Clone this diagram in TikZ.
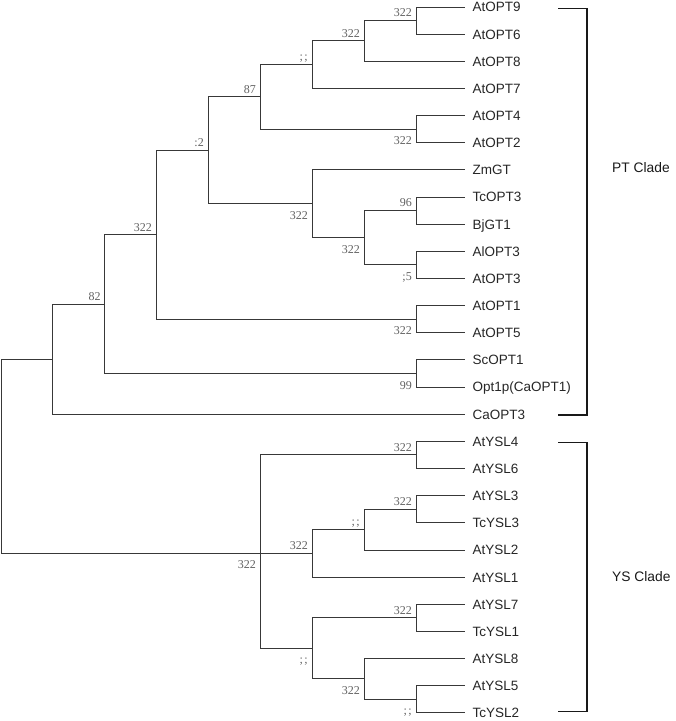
\documentclass[tikz,border=0pt]{standalone}
\usepackage{fontspec}
\setmainfont{Liberation Sans}
\newfontfamily\bsfont{Liberation Serif}
\begin{document}
\begin{tikzpicture}[x=1pt,y=-1pt,
  br/.style={draw=black!78,line width=1pt},
  leaf/.style={anchor=west,inner sep=0pt,text height=9.7pt,text depth=0pt,text=black!85,font=\fontsize{13.5}{14}\selectfont},
  clade/.style={anchor=west,inner sep=0pt,text height=9.7pt,text depth=0pt,text=black!90,font=\fontsize{13.8}{14}\selectfont},
  bs/.style={inner sep=0pt,text height=7.8pt,text depth=0pt,text=black!62,font=\bsfont\fontsize{12}{12}\selectfont},
  bsa/.style={bs,anchor=south east,xshift=-4pt,yshift=3.5pt},
  bsb/.style={bs,anchor=north east,xshift=-4pt,yshift=-7.5pt},
  bracket/.style={draw=black!90,line width=1.5pt}]
\useasboundingbox (0,0) rectangle (676,721);
% leaves
\foreach \i/\t in {0/AtOPT9,1/AtOPT6,2/AtOPT8,3/AtOPT7,4/AtOPT4,5/AtOPT2,6/ZmGT,7/TcOPT3,8/BjGT1,9/AlOPT3,10/AtOPT3,11/AtOPT1,12/AtOPT5,13/ScOPT1,14/Opt1p(CaOPT1),15/CaOPT3,16/AtYSL4,17/AtYSL6,18/AtYSL3,19/TcYSL3,20/AtYSL2,21/AtYSL1,22/AtYSL7,23/TcYSL1,24/AtYSL8,25/AtYSL5,26/TcYSL2}{
  \node[leaf] (l\i) at (472.5,{7+27.15*\i}) {\t};
  \coordinate (e\i) at ([xshift=-7.5pt]l\i.west);
}
% internal nodes
\coordinate (K) at (416,20.575);
\coordinate (J) at (364,40.94);
\coordinate (H) at (312,64.69);
\coordinate (I) at (416,129.175);
\coordinate (F) at (260,96.93);
\coordinate (M) at (416,210.625);
\coordinate (N) at (416,264.925);
\coordinate (L) at (364,237.775);
\coordinate (G) at (312,203.84);
\coordinate (D) at (208,150.385);
\coordinate (E) at (416,319.225);
\coordinate (B) at (156,234.8);
\coordinate (C) at (416,373.525);
\coordinate (A) at (104.7,304.16);
\coordinate (Z) at (52.7,359.2);
\coordinate (Q) at (416,454.975);
\coordinate (U) at (416,509.275);
\coordinate (T) at (364,529.64);
\coordinate (R) at (312,553.39);
\coordinate (V) at (416,617.875);
\coordinate (X) at (416,699.325);
\coordinate (W) at (364,678.96);
\coordinate (S) at (312,648.42);
\coordinate (P) at (260,553.39);
\coordinate (root) at (1.5,456.3);
% branches
\draw[br] (root) |- (Z);
\draw[br] (root) |- (P);
\draw[br] (Z) |- (A);
\draw[br] (Z) |- (e15);
\draw[br] (A) |- (B);
\draw[br] (A) |- (C);
\draw[br] (C) |- (e13);
\draw[br] (C) |- (e14);
\draw[br] (B) |- (D);
\draw[br] (B) |- (E);
\draw[br] (E) |- (e11);
\draw[br] (E) |- (e12);
\draw[br] (D) |- (F);
\draw[br] (D) |- (G);
\draw[br] (F) |- (H);
\draw[br] (F) |- (I);
\draw[br] (I) |- (e4);
\draw[br] (I) |- (e5);
\draw[br] (H) |- (J);
\draw[br] (H) |- (e3);
\draw[br] (J) |- (K);
\draw[br] (J) |- (e2);
\draw[br] (K) |- (e0);
\draw[br] (K) |- (e1);
\draw[br] (G) |- (e6);
\draw[br] (G) |- (L);
\draw[br] (L) |- (M);
\draw[br] (L) |- (N);
\draw[br] (M) |- (e7);
\draw[br] (M) |- (e8);
\draw[br] (N) |- (e9);
\draw[br] (N) |- (e10);
\draw[br] (P) |- (Q);
\draw[br] (P) -- (R);
\draw[br] (P) |- (S);
\draw[br] (Q) |- (e16);
\draw[br] (Q) |- (e17);
\draw[br] (R) |- (T);
\draw[br] (R) |- (e21);
\draw[br] (T) |- (U);
\draw[br] (T) |- (e20);
\draw[br] (U) |- (e18);
\draw[br] (U) |- (e19);
\draw[br] (S) |- (V);
\draw[br] (S) |- (W);
\draw[br] (V) |- (e22);
\draw[br] (V) |- (e23);
\draw[br] (W) |- (e24);
\draw[br] (W) |- (X);
\draw[br] (X) |- (e25);
\draw[br] (X) |- (e26);
% bootstrap labels
\node[bsa] (bK) at (K) {322};
\node[bsa] (bJ) at (J) {322};
\node[bsa] (bH) at (H) {;\kern1.5pt;};
\node[bsa] (bF) at (F) {87};
\node[bsb] (bI) at (I) {322};
\node[bsa] (bD) at (D) {:2};
\node[bsb] (bG) at (G) {322};
\node[bsa] (bM) at (M) {96};
\node[bsb] (bL) at (L) {322};
\node[bsb] (bN) at (N) {;5};
\node[bsa] (bB) at (B) {322};
\node[bsb] (bE) at (E) {322};
\node[bsa] (bA) at (A) {82};
\node[bsb] (bC) at (C) {99};
\node[bsa] (bQ) at (Q) {322};
\node[bsa] (bU) at (U) {322};
\node[bsa] (bT) at (T) {;\kern1.5pt;};
\node[bsa] (bR) at (R) {322};
\node[bsb] (bP) at (P) {322};
\node[bsb] (bS) at (S) {;\kern1.5pt;};
\node[bsa] (bV) at (V) {322};
\node[bsb] (bW) at (W) {322};
\node[bsb] (bX) at (X) {;\kern1.5pt;};
% brackets
\coordinate (pt1) at (558,8.3);
\coordinate (pt2) at (587,8.3);
\coordinate (pt3) at (587,414.8);
\coordinate (pt4) at (558,414.8);
\draw[bracket] (pt1) -- (pt2) -- (pt3) -- (pt4);
\coordinate (ys1) at (558,442.5);
\coordinate (ys2) at (587,442.5);
\coordinate (ys3) at (587,711.7);
\coordinate (ys4) at (558,711.7);
\draw[bracket] (ys1) -- (ys2) -- (ys3) -- (ys4);
\node[clade] (ptc) at (612,168) {PT Clade};
\node[clade] (ysc) at (612,577) {YS Clade};
\end{tikzpicture}
\end{document}
